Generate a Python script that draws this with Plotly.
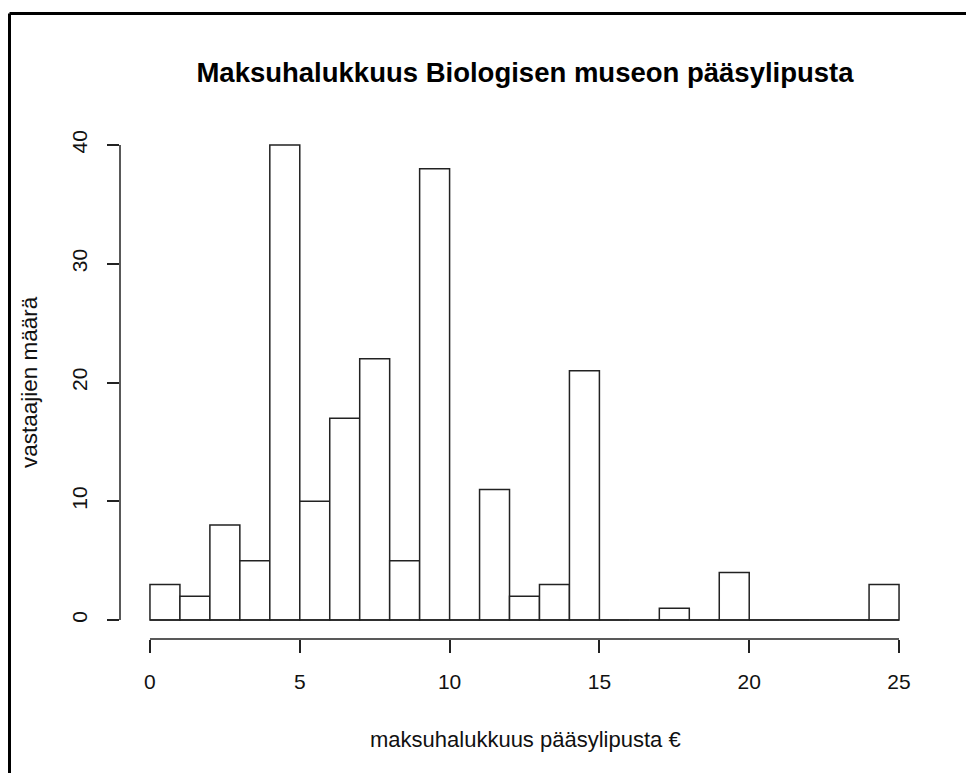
import plotly.graph_objects as go

# histogram bins (1 euro wide) and counts
bin_edges = list(range(0, 26))
counts = [3, 2, 8, 5, 40, 10, 17, 22, 5, 38, 0, 11, 2, 3, 21,
          0, 0, 1, 0, 4, 0, 0, 0, 0, 3]
x_ticks = [0, 5, 10, 15, 20, 25]
y_ticks = [0, 10, 20, 30, 40]

title = "Maksuhalukkuus Biologisen museon pääsylipusta"
x_title = "maksuhalukkuus pääsylipusta €"
y_title = "vastaajien määrä"

centers = [(a + b) / 2 for a, b in zip(bin_edges[:-1], bin_edges[1:])]

# page body has an 8px margin, so the figure is a bit smaller than the window
OFF = 8
W, H = 974 - OFF, 773 - OFF
# plot area in window pixels: x 120..929, y 126..639
L, R, T, B = 120 - OFF, 974 - 929, 126 - OFF, 773 - 639
pw, ph = W - L - R, H - T - B

def px_x(p):
    # window pixel -> paper x
    return (p - OFF - L) / pw

def px_y(p):
    # window pixel -> paper y
    return (H - B - (p - OFF)) / ph

fig = go.Figure()
fig.add_trace(go.Bar(
    x=centers, y=counts, width=1,
    marker=dict(color="white", line=dict(color="#222", width=1.5)),
    hoverinfo="x+y",
))

font = "Liberation Sans, Arial, sans-serif"

# baseline for empty bins, like R draws them
fig.add_shape(type="line", xref="x", yref="y",
              x0=bin_edges[0], x1=bin_edges[-1], y0=0, y1=0,
              line=dict(color="#222", width=1.5))
# detached axis lines
fig.add_shape(type="line", xref="x", yref="paper",
              x0=x_ticks[0], x1=x_ticks[-1], y0=0, y1=0,
              line=dict(color="#222", width=1.5))
fig.add_shape(type="line", xref="paper", yref="y",
              x0=0, x1=0, y0=y_ticks[0], y1=y_ticks[-1],
              line=dict(color="#222", width=1.5))
# window border (top and left)
fig.add_shape(type="line", xref="paper", yref="paper",
              x0=px_x(9.5), x1=px_x(980), y0=px_y(13.5), y1=px_y(13.5),
              line=dict(color="black", width=3))
fig.add_shape(type="line", xref="paper", yref="paper",
              x0=px_x(9.5), x1=px_x(9.5), y0=px_y(13.5), y1=px_y(780),
              line=dict(color="black", width=3))

fig.update_layout(
    width=W, height=H,
    margin=dict(l=L, r=R, t=T, b=B),
    plot_bgcolor="white", paper_bgcolor="white",
    showlegend=False,
    font=dict(family=font, size=21, color="#111"),
    title=dict(text="<b>" + title + "</b>", x=(525 - OFF) / W, xanchor="center",
               y=1 - (72 - OFF) / H, yanchor="middle",
               font=dict(size=27.5, color="black")),
    annotations=[
        dict(text=x_title, xref="paper", yref="paper", x=px_x(525),
             y=px_y(739), xanchor="center", yanchor="middle",
             showarrow=False, font=dict(size=22)),
        dict(text=y_title, xref="paper", yref="paper", x=px_x(29),
             y=px_y(382), xanchor="center", yanchor="middle",
             textangle=-90, showarrow=False, font=dict(size=22.5)),
    ],
)
fig.update_xaxes(range=[-1, 26], tickvals=x_ticks, ticks="outside",
                 ticklen=13, tickwidth=1.5, tickcolor="#222",
                 showgrid=False, zeroline=False, showline=False,
                 ticklabelstandoff=11)
fig.update_yaxes(range=[-1.6, 41.6], tickvals=y_ticks, ticks="outside",
                 ticklen=12, tickwidth=1.5, tickcolor="#222",
                 showgrid=False, zeroline=False, showline=False,
                 tickangle=-90, ticklabelstandoff=12)

fig.write_html("out.html")
